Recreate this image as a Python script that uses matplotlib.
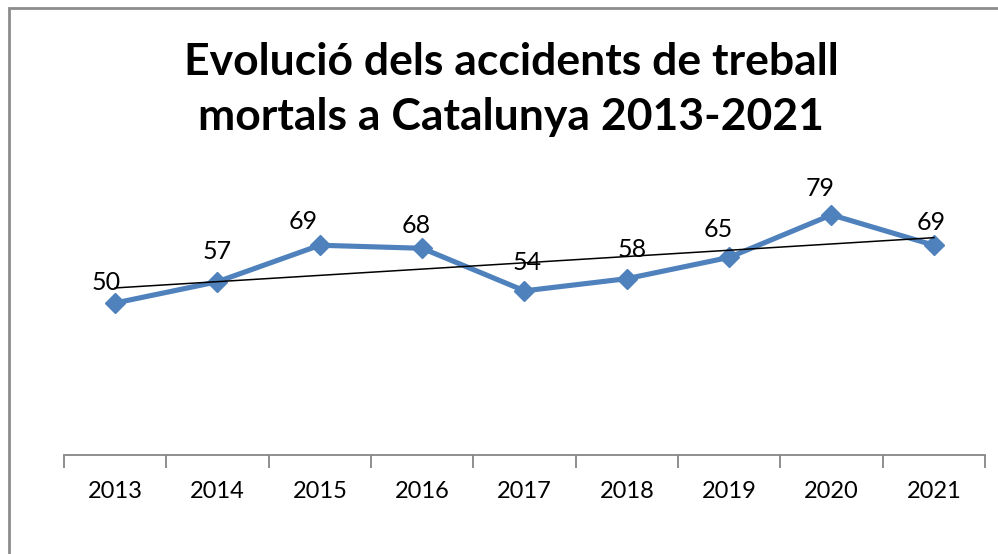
import matplotlib.pyplot as plt
import numpy as np
from matplotlib.patches import Rectangle

YEARS = ["2013", "2014", "2015", "2016", "2017", "2018", "2019", "2020", "2021"]
ACCIDENTS = [50, 57, 69, 68, 54, 58, 65, 79, 69]
TITLE_LINES = ["Evolució dels accidents de treball", "mortals a Catalunya 2013-2021"]

# hand-placed label offsets (pixels, dx / dy above the point), as in the sheet
LABEL_NUDGE = [(-9, 21), (0, 30), (-17, 24), (-6, 23), (3, 28),
               (5, 29), (-11, 28), (-11, 26), (-3, 23)]

LINE_BLUE = "#4F81BD"
AXIS_GRAY = "#868686"

plt.rcParams["font.family"] = ["Lato", "DejaVu Sans"]

W, H = 998, 554
fig = plt.figure(figsize=(W / 100, H / 100), dpi=100)

# chart frame (only top and left edges fall inside the picture)
fig.patches.append(Rectangle((8.5 / W, -0.1), 1.2, 1 - 8.5 / H + 0.1,
                             transform=fig.transFigure, fill=False,
                             edgecolor="#8c8c8c", linewidth=2))

ax = fig.add_axes([64 / W, (H - 455) / H, (985 - 64) / W, 304 / H])
x = np.arange(len(YEARS))

ax.plot(x, ACCIDENTS, color=LINE_BLUE, linewidth=3.7, marker="D",
        markersize=10.5, markerfacecolor=LINE_BLUE, markeredgecolor=LINE_BLUE,
        zorder=3, clip_on=False)

# linear trend line, as the spreadsheet draws it
slope, icpt = np.polyfit(x, ACCIDENTS, 1)
ax.plot(x, slope * x + icpt, color="black", linewidth=1.1, zorder=4)

px = 72 / 100  # pixels -> points
for xi, v, (dx, dy) in zip(x, ACCIDENTS, LABEL_NUDGE):
    ax.annotate(str(v), (xi, v), xytext=(dx * px, dy * px),
                textcoords="offset points", ha="center", va="center",
                fontsize=18, color="black", zorder=5)

ax.set_xlim(-0.5, len(YEARS) - 0.5)
ax.set_ylim(0, 100)
ax.set_xticks(x)
ax.set_xticklabels(YEARS, fontsize=17)
ax.set_xticks(np.arange(-0.5, len(YEARS)), minor=True)
ax.tick_params(axis="x", which="major", length=0, pad=19)
ax.tick_params(axis="x", which="minor", length=9, width=1.3, color=AXIS_GRAY)
ax.set_yticks([])
for side in ["top", "right", "left"]:
    ax.spines[side].set_visible(False)
ax.spines["bottom"].set_color(AXIS_GRAY)
ax.spines["bottom"].set_linewidth(1.3)
ax.patch.set_alpha(0)

for line, base in zip(TITLE_LINES, [75, 130]):
    fig.text(511 / W, 1 - base / H, line, ha="center", va="baseline",
             fontsize=32, fontweight="bold")

fig.savefig("out.png", dpi=100)
